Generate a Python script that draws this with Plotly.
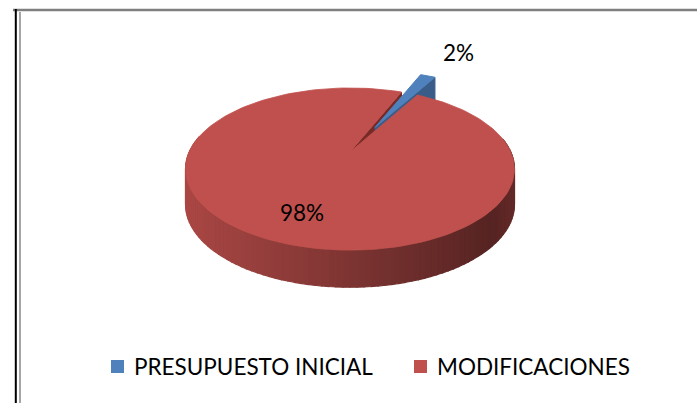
import math
import plotly.graph_objects as go

# Budget share data
categories = ["PRESUPUESTO INICIAL", "MODIFICACIONES"]
values = [2, 98]
colors = ["#4F81BD", "#C0504D"]

W, H = 697, 403

# Perspective projection of a tilted disc onto the page (pixel coordinates)
CX, CY = 350.0, 152.0      # projected centre of the top face
RX, RY = 160.8, 77.5       # horizontal / vertical radii
PERSP = 0.21               # foreshortening of the far side
DEPTH = 35.0               # thickness of the disc
START = 22.5               # first slice starts here (deg, clockwise from back)
EXPLODE = 0.38             # outward shift of the first slice (fraction of radius)


def proj(X, Y, z=0.0):
    s = 1.0 / (1.0 + PERSP * Y)
    return CX + RX * X * s, CY - RY * Y * s + DEPTH * z * s ** 0.25


def polar(r, deg, off=(0.0, 0.0)):
    a = math.radians(deg)
    return off[0] + r * math.sin(a), off[1] + r * math.cos(a)


def shade(rgb, k):
    return "rgb(%d,%d,%d)" % tuple(max(0, min(255, round(c * k))) for c in rgb)


def hex_rgb(h):
    h = h.lstrip("#")
    return tuple(int(h[i:i + 2], 16) for i in (0, 2, 4))


def poly(fig, pts, color, lw=1.0):
    xs = [p[0] for p in pts] + [pts[0][0]]
    ys = [p[1] for p in pts] + [pts[0][1]]
    fig.add_trace(go.Scatter(x=xs, y=ys, mode="lines", fill="toself",
                             fillcolor=color, line=dict(color=color, width=lw),
                             hoverinfo="skip", showlegend=False))


total = sum(values)
spans = [v / total * 360.0 for v in values]
a0 = START
a1 = a0 + spans[0]            # end of first slice
a2 = a1 + spans[1]            # end of second slice (= a0 + 360)
mid0 = (a0 + a1) / 2
off = polar(EXPLODE, mid0)

fig = go.Figure()

# --- second slice: radial wall at its closing edge, seen through the gap
wall = []
n = 12
for i in range(n + 1):
    wall.append(proj(*polar(i / n, a2), 0))
for i in range(n, -1, -1):
    wall.append(proj(*polar(i / n, a2), 1))
poly(fig, wall, "rgb(120,42,40)")

# --- first (exploded) slice
blue = hex_rgb(colors[0])
bwall = []
for i in range(n + 1):
    bwall.append(proj(*polar(i / n, a1, off), 0))
for i in range(n, -1, -1):
    bwall.append(proj(*polar(i / n, a1, off), 1))
poly(fig, bwall, shade(blue, 0.72))

btop = [proj(*off, 0)]
steps = 20
for i in range(steps + 1):
    btop.append(proj(*polar(1.0, a0 + (a1 - a0) * i / steps, off), 0))
poly(fig, btop, colors[0])

# --- second slice: outer side wall as shaded strips
red = hex_rgb(colors[1])
seg = 2.0
ang = 80.0
while ang < 282.0:
    b = ang + seg
    p1 = proj(*polar(1.0, ang), 0)
    p2 = proj(*polar(1.0, b), 0)
    p3 = proj(*polar(1.0, b), 1)
    p4 = proj(*polar(1.0, ang), 1)
    xm = (p1[0] + p2[0]) / 2
    t = (xm - (CX - RX)) / (2 * RX)          # 0 at left, 1 at right
    k = 0.88 - 0.46 * t
    if t > 0.94:
        k += (t - 0.94) * 1.5
    poly(fig, [p1, p2, p3, p4], shade(red, k), 1.2)
    ang = b

# --- second slice: top face
rtop = [proj(0, 0, 0)]
steps = 180
for i in range(steps + 1):
    rtop.append(proj(*polar(1.0, a1 + (a2 - a1) * i / steps), 0))
poly(fig, rtop, colors[1], 0.8)

# --- percentage labels
font = dict(family="Lato, Open Sans, sans-serif", size=22.5, color="#000000")
pct = [f"{round(v / total * 100)}%" for v in values]
fig.add_annotation(x=458, y=52, text=pct[0], showarrow=False, font=font)
fig.add_annotation(x=302, y=212, text=pct[1], showarrow=False, font=font)

# --- legend
leg_sq_x = [117.5, 420.5]
leg_y = 366.5
fig.add_trace(go.Scatter(x=leg_sq_x, y=[leg_y, leg_y], mode="markers",
                         marker=dict(symbol="square", size=13, color=colors,
                                     line=dict(width=0)),
                         hoverinfo="skip", showlegend=False))
for sx, name in zip(leg_sq_x, categories):
    fig.add_annotation(x=sx + 14, y=leg_y, text=name, showarrow=False,
                       xanchor="left", yanchor="middle", font=font)

# --- frame lines
fig.add_shape(type="line", x0=13, x1=W, y0=10, y1=10,
              line=dict(color="#7f7f7f", width=2.5))
fig.add_shape(type="line", x0=15.8, x1=15.8, y0=9, y1=H,
              line=dict(color="#000000", width=2))
fig.add_shape(type="line", x0=20, x1=20, y0=12, y1=H,
              line=dict(color="#a6a6a6", width=2))

fig.update_layout(
    width=W, height=H,
    margin=dict(l=0, r=0, t=0, b=0),
    paper_bgcolor="#ffffff", plot_bgcolor="#ffffff",
    xaxis=dict(range=[0, W], visible=False, fixedrange=True),
    yaxis=dict(range=[H, 0], visible=False, fixedrange=True),
    showlegend=False,
)

fig.write_html("out.html")
